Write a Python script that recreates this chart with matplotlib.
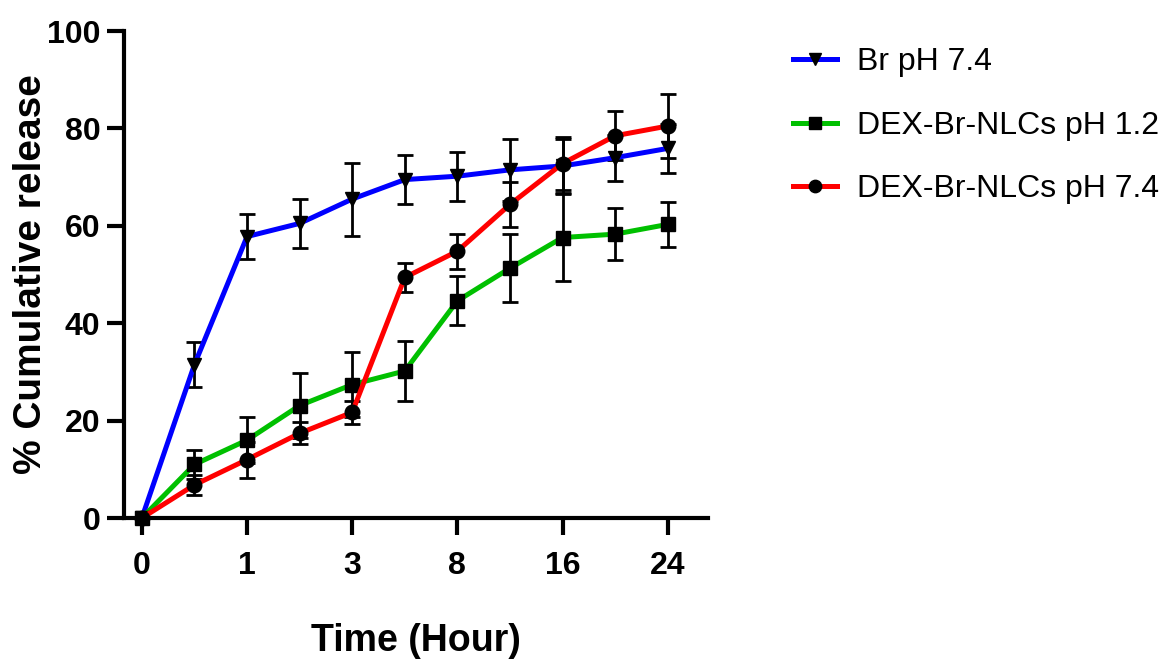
import numpy as np
import matplotlib
matplotlib.use('Agg')
import matplotlib.pyplot as plt

# sampling times (hours), plotted at evenly spaced category positions
hours = [0, 0.5, 1, 2, 3, 4, 8, 12, 16, 20, 24]
tick_idx = [0, 2, 4, 6, 8, 10]
tick_labels = ['0', '1', '3', '8', '16', '24']

br74 = [0, 31.5, 57.8, 60.5, 65.5, 69.5, 70.2, 71.5, 72.3, 74.0, 75.9]
br74_sd = [0, 4.6, 4.6, 5.0, 7.5, 5.0, 5.0, 6.3, 5.5, 4.7, 5.0]

nlc12 = [0, 11.0, 16.0, 23.1, 27.4, 30.2, 44.6, 51.3, 57.6, 58.3, 60.3]
nlc12_sd = [0, 3.0, 4.7, 6.7, 6.6, 6.1, 5.0, 7.0, 9.0, 5.3, 4.7]

nlc74 = [0, 6.8, 12.0, 17.4, 21.7, 49.4, 54.8, 64.4, 72.8, 78.5, 80.5]
nlc74_sd = [0, 2.0, 3.7, 2.3, 2.4, 3.0, 3.6, 4.6, 5.5, 5.0, 6.6]

regular = ['Liberation Sans', 'DejaVu Sans']

fig = plt.figure(figsize=(11.64, 6.61), dpi=100)
ax = fig.add_axes([0.1065, 0.2163, 0.5015, 0.7367])

x = np.arange(len(hours))
series = [
    (br74, br74_sd, 'blue', 'v', 'Br pH 7.4'),
    (nlc12, nlc12_sd, '#00c000', 's', 'DEX-Br-NLCs pH 1.2'),
    (nlc74, nlc74_sd, 'red', 'o', 'DEX-Br-NLCs pH 7.4'),
]
for y, sd, col, mk, lab in series:
    ax.errorbar(x, y, yerr=sd, fmt='none', ecolor='black', elinewidth=2,
                capsize=6, capthick=2, zorder=2, clip_on=False)
    ax.plot(x, y, color=col, lw=3.6, marker=mk, markersize=10.5,
            markerfacecolor='black', markeredgecolor='black', label=lab,
            zorder=3, clip_on=False)

ax.set_xlim(-0.34, 10.76)
ax.set_ylim(0, 100)
ax.set_yticks([0, 20, 40, 60, 80, 100])
ax.set_xticks(tick_idx)
ax.set_xticklabels(tick_labels)

for s in ['top', 'right']:
    ax.spines[s].set_visible(False)
for s in ['left', 'bottom']:
    ax.spines[s].set_linewidth(3)
ax.tick_params(axis='both', width=3, length=12)
ax.tick_params(axis='x', pad=12)
ax.tick_params(axis='y', pad=5)
for lbl in ax.get_xticklabels() + ax.get_yticklabels():
    lbl.set_fontfamily(regular)
    lbl.set_fontweight('bold')
    lbl.set_fontsize(23)

ax.set_xlabel('Time (Hour)', family=regular, fontweight='bold', fontsize=27, labelpad=30)
ax.set_ylabel('% Cumulative release', family=regular, fontweight='bold', fontsize=28)
ax.yaxis.set_label_coords(-0.128, 0.5)

leg = ax.legend(loc='upper left', bbox_to_anchor=(0.657, 0.972), bbox_transform=fig.transFigure,
                frameon=False, handlelength=1.35, labelspacing=1.05, handletextpad=0.65,
                markerscale=0.85, prop={'family': regular, 'size': 23})

fig.savefig('out.png', dpi=100)
